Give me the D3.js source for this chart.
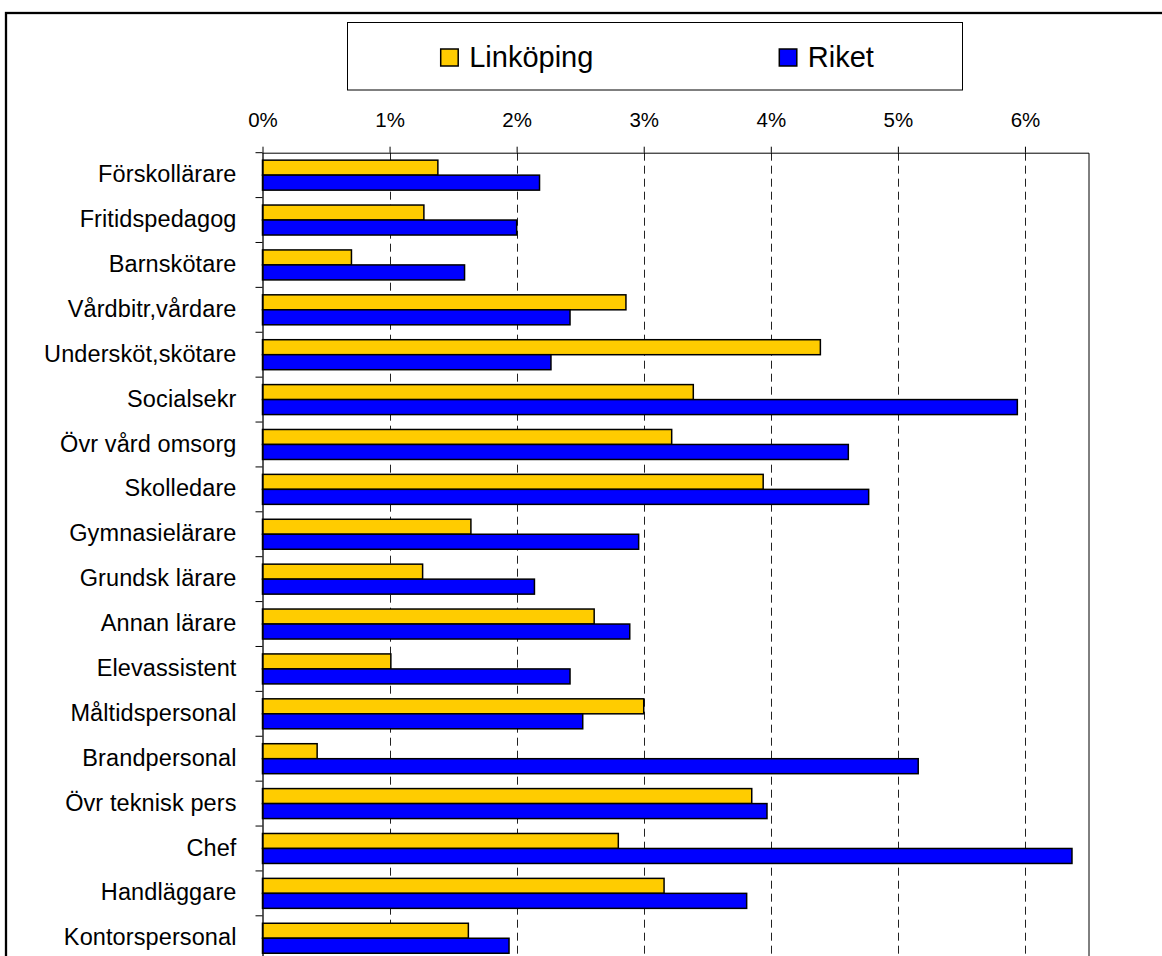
<!DOCTYPE html>
<html>
<head>
<meta charset="utf-8">
<script src="https://cdn.jsdelivr.net/npm/d3@7"></script>
<style>
  html, body { margin: 0; padding: 0; background: #fff; }
  svg { display: block; }
  text { font-family: "Liberation Sans", Arial, sans-serif; fill: #000; }
</style>
</head>
<body>
<svg id="chart" width="1162" height="956"></svg>
<script>
const categories = [
  "Förskollärare", "Fritidspedagog", "Barnskötare", "Vårdbitr,vårdare",
  "Undersköt,skötare", "Socialsekr", "Övr vård omsorg", "Skolledare",
  "Gymnasielärare", "Grundsk lärare", "Annan lärare", "Elevassistent",
  "Måltidspersonal", "Brandpersonal", "Övr teknisk pers", "Chef",
  "Handläggare", "Kontorspersonal"
];
const seriesNames = ["Linköping", "Riket"];
const linkoping = [1.38, 1.27, 0.70, 2.86, 4.39, 3.39, 3.22, 3.94, 1.64, 1.26, 2.61, 1.01, 3.00, 0.43, 3.85, 2.80, 3.16, 1.62];
const riket     = [2.18, 2.00, 1.59, 2.42, 2.27, 5.94, 4.61, 4.77, 2.96, 2.14, 2.89, 2.42, 2.52, 5.16, 3.97, 6.37, 3.81, 1.94];
const xTicks = [0, 1, 2, 3, 4, 5, 6];
const xMax = 6.5;
const colors = ["#FFCC00", "#0000FF"];

const svg = d3.select("#chart");

// outer chart frame (cropped by the picture)
svg.append("rect")
  .attr("x", 6).attr("y", 13)
  .attr("width", 1300).attr("height", 1100)
  .attr("fill", "none").attr("stroke", "#000").attr("stroke-width", 2.3);

const pLeft = 262.5, pRight = 1088.5, pTop = 152.7, pBottom = 960.7;

const x = d3.scaleLinear().domain([0, xMax]).range([pLeft, pRight]);
const y = d3.scaleBand().domain(categories).range([pTop, pBottom])
  .paddingInner(0.332).paddingOuter(0.166);
const ys = d3.scaleBand().domain(seriesNames).range([0, y.bandwidth()]);

const data = categories.map((c, i) => ({ cat: c, values: [linkoping[i], riket[i]] }));

// gridlines
svg.append("g")
  .selectAll("line")
  .data(xTicks.filter(t => t > 0))
  .join("line")
  .attr("x1", d => Math.round(x(d)) + 0.5).attr("x2", d => Math.round(x(d)) + 0.5)
  .attr("y1", pTop).attr("y2", pBottom)
  .attr("stroke", "#222").attr("stroke-width", 1)
  .attr("stroke-dasharray", "8,5");

// plot area border (top and right)
svg.append("path")
  .attr("d", `M${pLeft},${pTop + 0.5}H${pRight + 0.5}V${pBottom}`)
  .attr("fill", "none").attr("stroke", "#000").attr("stroke-width", 1);

// bars
const groups = svg.append("g").selectAll("g")
  .data(data).join("g")
  .attr("transform", d => `translate(0,${y(d.cat)})`);
groups.selectAll("rect")
  .data(d => d.values.map((v, j) => ({ v, s: seriesNames[j], j })))
  .join("rect")
  .attr("x", x(0))
  .attr("y", d => ys(d.s))
  .attr("width", d => x(d.v) - x(0))
  .attr("height", ys.bandwidth())
  .attr("fill", d => colors[d.j])
  .attr("stroke", "#000").attr("stroke-width", 1.5);

// top axis
const xAxis = d3.axisTop(x)
  .tickValues(xTicks)
  .tickFormat(d => d + "%")
  .tickSize(6).tickPadding(0);
const gx = svg.append("g").attr("transform", `translate(0,${pTop})`).call(xAxis);
gx.select(".domain").remove();
gx.selectAll(".tick line").attr("stroke", "#000");
gx.selectAll(".tick text")
  .attr("y", 127 - pTop).attr("dy", null)
  .attr("font-size", 20.5)
  .style("font-family", '"Liberation Sans", Arial, sans-serif');

// left axis
const yAxis = d3.axisLeft(y).tickSize(0).tickPadding(26);
const gy = svg.append("g").attr("transform", `translate(${pLeft},0)`).call(yAxis);
gy.select(".domain").attr("stroke", "#000").attr("stroke-width", 1.3)
  .attr("d", `M0.5,${pTop}V${pBottom}`);
gy.selectAll(".tick text")
  .attr("font-size", 23.5)
  .attr("letter-spacing", 0.1)
  .attr("dy", "0.3em")
  .style("font-family", '"Liberation Sans", Arial, sans-serif');

// category boundary ticks
const step = y.step();
svg.append("g").selectAll("line")
  .data(d3.range(categories.length + 1))
  .join("line")
  .attr("x1", pLeft - 7).attr("x2", pLeft)
  .attr("y1", i => pTop + i * step).attr("y2", i => pTop + i * step)
  .attr("stroke", "#000").attr("stroke-width", 1);

// legend
const lg = svg.append("g");
lg.append("rect")
  .attr("x", 347.5).attr("y", 22.5).attr("width", 615).attr("height", 67.5)
  .attr("fill", "#fff").attr("stroke", "#000").attr("stroke-width", 1);
const legendX = [440.7, 779.3];
seriesNames.forEach((s, j) => {
  lg.append("rect")
    .attr("x", legendX[j]).attr("y", 49).attr("width", 17.5).attr("height", 17)
    .attr("fill", colors[j]).attr("stroke", "#000").attr("stroke-width", 1.5);
  lg.append("text")
    .attr("x", legendX[j] + 28.5).attr("y", 67)
    .attr("font-size", 29)
    .text(s);
});
</script>
</body>
</html>
